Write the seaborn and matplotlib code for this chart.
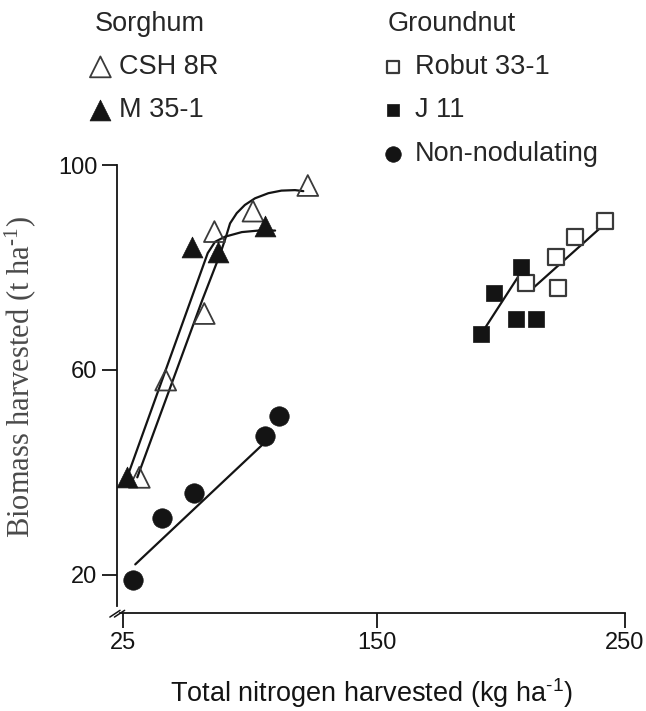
import numpy as np
import matplotlib
matplotlib.use('Agg')
import matplotlib.pyplot as plt
import seaborn as sns

# biomass vs total N harvested - sorghum and groundnut cultivars

# ---- data ----
# Sorghum
csh_x = [33, 46, 65, 70, 89, 116]
csh_y = [39, 58, 71, 87, 91, 96]
m35_x = [27, 59, 72, 95]
m35_y = [39, 84, 83, 88]
# Groundnut
robut_x = [210, 222, 223, 230, 242]
robut_y = [77, 82, 76, 86, 89]
j11_x = [192, 197, 206, 208, 214]
j11_y = [67, 75, 70, 80, 70]
nonnod_x = [30, 44, 60, 95, 102]
nonnod_y = [19, 31, 36, 47, 51]

# hand drawn fitted curves (points along them)
csh_curve_x = [32, 64, 73, 75.7, 77.7, 81, 85, 90, 96.6, 103, 109.7, 113.8]
csh_curve_y = [39, 73.6, 82.8, 86, 88.6, 90.6, 92.2, 93.5, 94.5, 95, 95.1, 94.9]
m35_curve_x = [27, 66.7, 70.3, 75.2, 83.5, 91.7, 99.9]
m35_curve_y = [39, 82.8, 85, 86, 86.9, 87.2, 87.2]
nonnod_line_x = [31, 94]
nonnod_line_y = [22, 45.5]
j11_line_x = [192, 208]
j11_line_y = [67, 79]
robut_line_x = [213, 243]
robut_line_y = [76, 89]

x_ticks = [25, 150, 250]
y_ticks = [20, 60, 100]

sns.set_style('ticks')
plt.rcParams['font.family'] = ['Liberation Sans', 'DejaVu Sans']

fig = plt.figure(figsize=(6.46, 7.11), dpi=100)
ax = fig.add_axes([0.1811, 0.1378, 0.7864, 0.6301])

# the x axis in the original is not evenly spaced (25-150 and 150-250 have own widths)
def fwd(x):
    x = np.asarray(x, float)
    return np.where(x < 150, (x - 25) * 2.03, 254 + (x - 150) * 2.48)

def inv(p):
    p = np.asarray(p, float)
    return np.where(p < 254, 25 + p / 2.03, 150 + (p - 254) / 2.48)

ax.set_xscale('function', functions=(fwd, inv))

ink = '#141414'
lw = 1.6

# fitted lines first so markers sit on top
for cx, cy in [(csh_curve_x, csh_curve_y), (m35_curve_x, m35_curve_y),
               (nonnod_line_x, nonnod_line_y), (j11_line_x, j11_line_y),
               (robut_line_x, robut_line_y)]:
    sns.lineplot(x=cx, y=cy, ax=ax, color=ink, lw=lw, sort=False, estimator=None)

sns.scatterplot(x=csh_x, y=csh_y, ax=ax, marker='^', s=15**2, facecolor='none',
                edgecolor='#3a3a3a', linewidth=1.3, label='CSH 8R', zorder=3)
sns.scatterplot(x=m35_x, y=m35_y, ax=ax, marker='^', s=15**2, color=ink,
                edgecolor=ink, linewidth=0.5, label='M 35-1', zorder=3)
sns.scatterplot(x=robut_x, y=robut_y, ax=ax, marker='s', s=11**2, facecolor='white',
                edgecolor='#3a3a3a', linewidth=1.6, label='Robut 33-1', zorder=3)
sns.scatterplot(x=j11_x, y=j11_y, ax=ax, marker='s', s=11**2, color=ink,
                edgecolor=ink, linewidth=0.5, label='J 11', zorder=3)
sns.scatterplot(x=nonnod_x, y=nonnod_y, ax=ax, marker='o', s=14**2, color=ink,
                edgecolor=ink, linewidth=0.5, label='Non-nodulating', zorder=3)

ax.set_xlim(22, 250)
ax.set_ylim(12.5, 100)
ax.set_xticks(x_ticks)
ax.set_yticks(y_ticks)
ax.set_xticklabels([str(t) for t in x_ticks])
ax.set_yticklabels([str(t) for t in y_ticks])
ax.minorticks_off()

sns.despine(ax=ax)
for side in ['left', 'bottom']:
    ax.spines[side].set_linewidth(1.3)
    ax.spines[side].set_color(ink)
ax.spines['left'].set_bounds(13.8, 100)
ax.spines['bottom'].set_bounds(23.5, 250)
ax.tick_params(direction='out', length=11, width=1.3, color=ink,
               labelsize=17, pad=3, colors=ink)

# axis break marks in the corner
for dx in [0, 0.009]:
    ax.plot([-0.014 + dx, 0.006 + dx], [-0.009, 0.006], transform=ax.transAxes,
            color=ink, lw=1.1, clip_on=False)

ax.set_xlabel('Total nitrogen harvested (kg ha$\\mathregular{^{\u20101}}$)', fontsize=19.5,
              labelpad=16, color=ink)
ax.set_ylabel('Biomass harvested (t ha$\\mathregular{^{\u20101}}$)', fontsize=22,
              family=['Liberation Serif', 'DejaVu Serif'], color='#4a4a4a')
ax.yaxis.set_label_coords(-0.155, 0.527)

handles, labels = ax.get_legend_handles_labels()
ax.get_legend().remove()

leg_kw = dict(loc='upper left', frameon=False, borderpad=0, borderaxespad=0,
              alignment='left', handlelength=0.4, labelspacing=0.64,
              fontsize=19.5, title_fontsize=19.5)
fig.legend(handles[:2], labels[:2], title='Sorghum', bbox_to_anchor=(0.147, 0.985),
           handletextpad=0.5, **leg_kw)
fig.legend(handles[2:], labels[2:], title='Groundnut', bbox_to_anchor=(0.6, 0.985),
           handletextpad=0.6, markerscale=0.8, **leg_kw)

plt.savefig('out.png', dpi=100)
